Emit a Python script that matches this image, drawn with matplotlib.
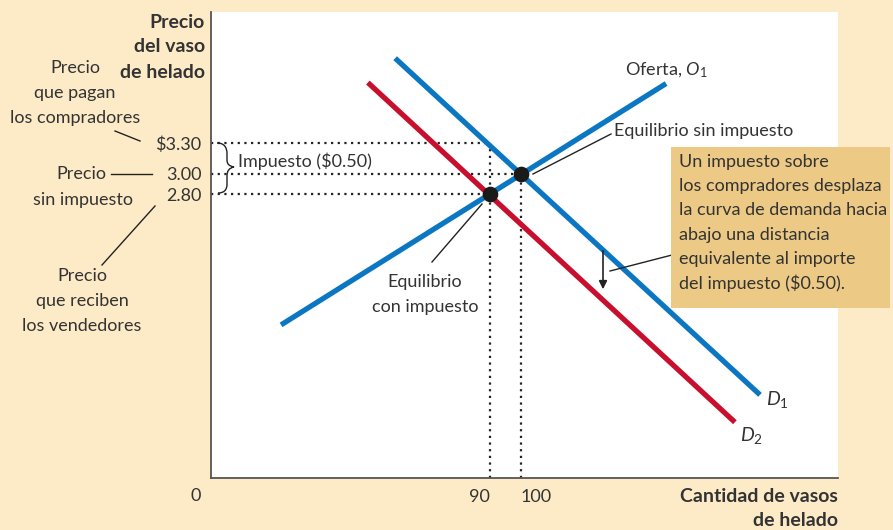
import matplotlib
matplotlib.use("Agg")
import matplotlib.pyplot as plt
from matplotlib.lines import Line2D
from matplotlib.patches import Rectangle, PathPatch, FancyArrowPatch
from matplotlib.path import Path

# ---------------- data ----------------
supply_q = [22.6, 146.8]
supply_p = [1.51, 3.89]
d1_q = [59.4, 177.1]
d1_p = [4.14, 0.82]
d2_q = [50.6, 169.0]
d2_p = [3.90, 0.55]

eq_q = [90, 100]          # with tax, without tax
eq_p = [2.80, 3.00]
buyer_price = 3.30
price_ticks = [2.80, 3.00, 3.30]
price_labels = ["2.80", "3.00", r"\$3.30"]
qty_ticks = [90, 100]
qty_labels = ["90", "100"]

# ---------------- style ----------------
W, H = 893, 530
CREAM = "#FDEBC8"
BOX = "#ECC985"
BLUE = "#0B77C2"
RED = "#C8102E"
TXT = "#333333"
FONT = ["Lato", "DejaVu Sans"]
plt.rcParams["font.family"] = FONT
plt.rcParams["mathtext.fontset"] = "custom"
plt.rcParams["mathtext.rm"] = "Lato"
plt.rcParams["mathtext.it"] = "Lato:italic"
FS = 13
BFS = 14

fig = plt.figure(figsize=(W / 100, H / 100), dpi=100)
fig.patch.set_facecolor(CREAM)

L, R, T, B = 211, 838, 12, 478
ax = fig.add_axes([L / W, 1 - B / H, (R - L) / W, (B - T) / H])
ax.set_facecolor("white")
ax.set_xlim(0, (R - L) / 3.1)
ax.set_ylim(0, (B - T) / 101.4)
for s in ["top", "right"]:
    ax.spines[s].set_visible(False)
for s in ["left", "bottom"]:
    ax.spines[s].set_color("#555555")
    ax.spines[s].set_linewidth(1.3)

ax.set_yticks(price_ticks)
ax.set_yticklabels(price_labels)
ax.set_xticks(qty_ticks)
ax.set_xticklabels(qty_labels)
ax.tick_params(axis="both", length=0, labelsize=FS, labelcolor=TXT)
ax.tick_params(axis="y", pad=7)
ax.tick_params(axis="x", pad=8)
xl = ax.get_xticklabels()
xl[0].set_ha("right")
xl[1].set_ha("left")


def fx(x):
    return x / W


def fy(y):
    return 1 - y / H


def ftext(x, y, s, **kw):
    kw.setdefault("fontsize", FS)
    kw.setdefault("color", TXT)
    fig.text(fx(x), fy(y), s, **kw)


def fline(x0, y0, x1, y1, lw=1.0):
    fig.add_artist(Line2D([fx(x0), fx(x1)], [fy(y0), fy(y1)],
                          transform=fig.transFigure, color="#222222", lw=lw))


# dotted guide lines
dots = dict(color="#222222", lw=1.6, linestyle=(0, (1, 2)), zorder=2)
ax.plot([0, eq_q[0]], [buyer_price, buyer_price], **dots)
ax.plot([0, eq_q[1]], [eq_p[1], eq_p[1]], **dots)
ax.plot([0, eq_q[0]], [eq_p[0], eq_p[0]], **dots)
ax.plot([eq_q[0], eq_q[0]], [0, buyer_price], **dots)
ax.plot([eq_q[1], eq_q[1]], [0, eq_p[1]], **dots)

# curves
ax.plot(supply_q, supply_p, color=BLUE, lw=3.8, solid_capstyle="butt", zorder=3)
ax.plot(d1_q, d1_p, color=BLUE, lw=3.8, solid_capstyle="butt", zorder=3)
ax.plot(d2_q, d2_p, color=RED, lw=3.8, solid_capstyle="butt", zorder=3)
ax.scatter(eq_q, eq_p, s=105, color="#1a1a1a", zorder=5)

# axis titles
ftext(205, 22, "Precio", ha="right", va="center", fontweight="bold", fontsize=BFS)
ftext(205, 47, "del vaso", ha="right", va="center", fontweight="bold", fontsize=BFS)
ftext(205, 72, "de helado", ha="right", va="center", fontweight="bold", fontsize=BFS)
ftext(838, 496, "Cantidad de vasos", ha="right", va="center", fontweight="bold", fontsize=BFS)
ftext(838, 520, "de helado", ha="right", va="center", fontweight="bold", fontsize=BFS)
ftext(196, 496, "0", ha="center", va="center")

# left annotations
for i, s in enumerate(["Precio", "que pagan", "los compradores"]):
    ftext(75, 68 + 25 * i, s, ha="center", va="center")
fline(115, 131, 140, 141)
ftext(106, 174, "Precio", ha="right", va="center")
fline(111, 174, 152, 174)
ftext(83, 200, "sin impuesto", ha="center", va="center")
fline(155, 206, 102, 265)
for i, s in enumerate(["Precio", "que reciben", "los vendedores"]):
    ftext(82, 276 + 25 * i, s, ha="center", va="center")

# brace
bp = [(217, 143), (224, 143), (227, 147), (227, 154),
      (227, 160), (227, 164), (229, 166), (234, 167),
      (229, 168), (227, 171), (227, 176),
      (227, 184), (227, 190), (224, 193), (218, 193)]
verts = [(fx(x), fy(y)) for x, y in bp]
codes = [Path.MOVETO, Path.CURVE4, Path.CURVE4, Path.CURVE4,
         Path.LINETO, Path.CURVE4, Path.CURVE4, Path.CURVE4,
         Path.CURVE4, Path.CURVE4, Path.CURVE4,
         Path.LINETO, Path.CURVE4, Path.CURVE4, Path.CURVE4]
fig.add_artist(PathPatch(Path(verts, codes), transform=fig.transFigure,
                         fill=False, ec="#222222", lw=1.0, zorder=6))
ftext(238, 161, r"Impuesto (\$0.50)", ha="left", va="center")

# curve labels
ftext(625, 70, r"Oferta, $\mathit{O}_{\mathrm{1}}$", ha="left", va="center")
ftext(614, 131, "Equilibrio sin impuesto", ha="left", va="center")
fline(611, 134, 533, 174)
ftext(425, 282, "Equilibrio", ha="center", va="center")
ftext(425, 307, "con impuesto", ha="center", va="center")
fline(432, 262, 482, 204)
ftext(766, 400, r"$\mathit{D}_{\mathrm{1}}$", ha="left", va="center", fontsize=14)
ftext(740, 435, r"$\mathit{D}_{\mathrm{2}}$", ha="left", va="center", fontsize=14)

# explanation box
fig.add_artist(Rectangle((fx(671), fy(308)), (890 - 671) / W, (308 - 147) / H,
                         transform=fig.transFigure, fc=BOX, ec="none", zorder=4))
box_lines = ["Un impuesto sobre", "los compradores desplaza",
             "la curva de demanda hacia", "abajo una distancia",
             "equivalente al importe", r"del impuesto (\$0.50)."]
for i, s in enumerate(box_lines):
    ftext(679, 162 + 24.2 * i, s, ha="left", va="center", zorder=5)
fline(610, 271, 672, 255)

# shift arrow
fig.add_artist(FancyArrowPatch((fx(603), fy(248)), (fx(603), fy(292)),
                               transform=fig.transFigure, arrowstyle="-|>",
                               mutation_scale=12, color="#222222", lw=1.2))

fig.savefig("out.png", dpi=100, facecolor=CREAM)
